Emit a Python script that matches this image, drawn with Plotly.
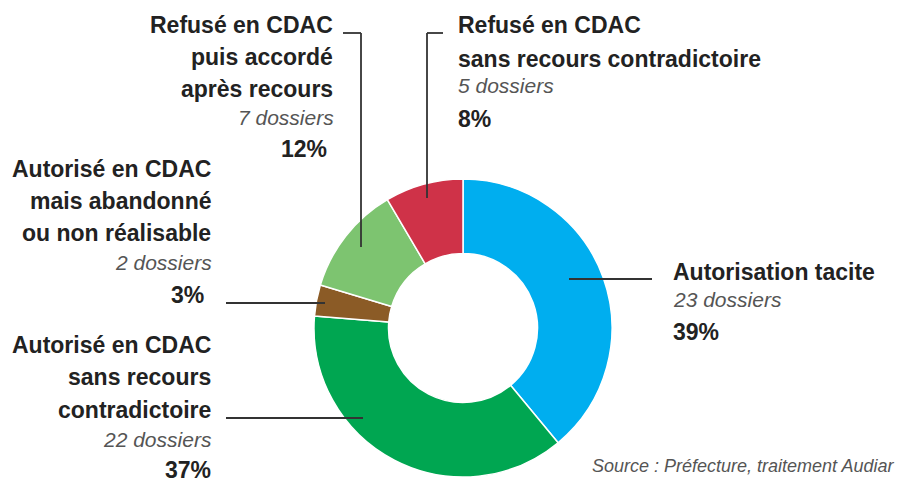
import plotly.graph_objects as go

W, H = 905, 484

# ---- data ----
categories = [
    "Autorisation tacite",
    "Autorisé en CDAC sans recours contradictoire",
    "Autorisé en CDAC mais abandonné ou non réalisable",
    "Refusé en CDAC puis accordé après recours",
    "Refusé en CDAC sans recours contradictoire",
]
dossiers = [23, 22, 2, 7, 5]
pct_labels = ["39%", "37%", "3%", "12%", "8%"]
count_labels = ["23 dossiers", "22 dossiers", "2 dossiers", "7 dossiers", "5 dossiers"]
title_lines = [
    ["Autorisation tacite"],
    ["Autorisé en CDAC", "sans recours", "contradictoire"],
    ["Autorisé en CDAC", "mais abandonné", "ou non réalisable"],
    ["Refusé en CDAC", "puis accordé", "après recours"],
    ["Refusé en CDAC", "sans recours contradictoire"],
]
colors = ["#00AEEF", "#00A651", "#8B5B26", "#7DC470", "#CF3248"]
source_text = "Source : Préfecture, traitement Audiar"

FONT = "Liberation Sans, Arial, sans-serif"
DARK = "#222222"
GREY = "#555555"
BS = 23   # bold size
IS = 21   # italic size


def px(x):
    return x / W


def py(y):
    return 1 - y / H


cx, cy, R = 463, 328, 149

fig = go.Figure()
fig.add_trace(go.Pie(
    labels=categories,
    values=dossiers,
    sort=False,
    direction="clockwise",
    rotation=0,
    hole=0.5,
    textinfo="none",
    hoverinfo="label+value+percent",
    marker=dict(colors=colors, line=dict(color="white", width=1.5)),
    domain=dict(x=[px(cx - R), px(cx + R)], y=[py(cy + R), py(cy - R)]),
    showlegend=False,
))

annotations = []


def add_line(text, x, baseline, anchor, size, italic=False, bold=True, color=DARK):
    t = text
    if bold:
        t = "<b>" + t + "</b>"
    if italic:
        t = "<i>" + t + "</i>"
    annotations.append(dict(
        text=t, x=px(x), y=py(baseline - 0.35 * size), xref="paper", yref="paper",
        xanchor=anchor, yanchor="middle", showarrow=False,
        font=dict(family=FONT, size=size, color=color), align=anchor,
        borderpad=0,
    ))


# label block layout: (x, anchor, title baselines, count baseline, pct baseline, pct x)
blocks = [
    (672, "left", [280], 307, 340, 672),
    (212, "right", [353, 385, 418], 447, 478, 212),
    (212, "right", [177, 209, 241], 270, 303, 205),
    (334, "right", [33, 65, 97], 125, 157, 328),
    (457, "left", [33, 67], 93, 127, 457),
]

for i, (x, anc, tb, cb, pb, pxx) in enumerate(blocks):
    for line, b in zip(title_lines[i], tb):
        add_line(line, x, b, anc, BS)
    add_line(count_labels[i], x + (1 if anc == "right" else 0), cb, anc, IS,
             italic=True, bold=False, color=GREY)
    add_line(pct_labels[i], pxx, pb, anc, BS)

add_line(source_text, 895, 472, "right", 18, italic=True, bold=False, color=GREY)

# leader lines (layout geometry)
leaders = [
    [(569, 279), (652, 279)],
    [(226, 418), (363, 418)],
    [(226, 303), (325, 303)],
    [(343, 33), (361, 33), (361, 247)],
    [(443, 33), (427, 33), (427, 198)],
]
shapes = []
for pts in leaders:
    for (x0, y0), (x1, y1) in zip(pts[:-1], pts[1:]):
        shapes.append(dict(type="line", xref="paper", yref="paper",
                           x0=px(x0), y0=py(y0), x1=px(x1), y1=py(y1),
                           line=dict(color="#333333", width=1.8)))

fig.update_layout(
    width=W, height=H,
    margin=dict(l=0, r=0, t=0, b=0),
    paper_bgcolor="white", plot_bgcolor="white",
    annotations=annotations, shapes=shapes,
)

fig.write_html("out.html", config={"displayModeBar": False},
               post_script="document.body.style.margin='0';")
